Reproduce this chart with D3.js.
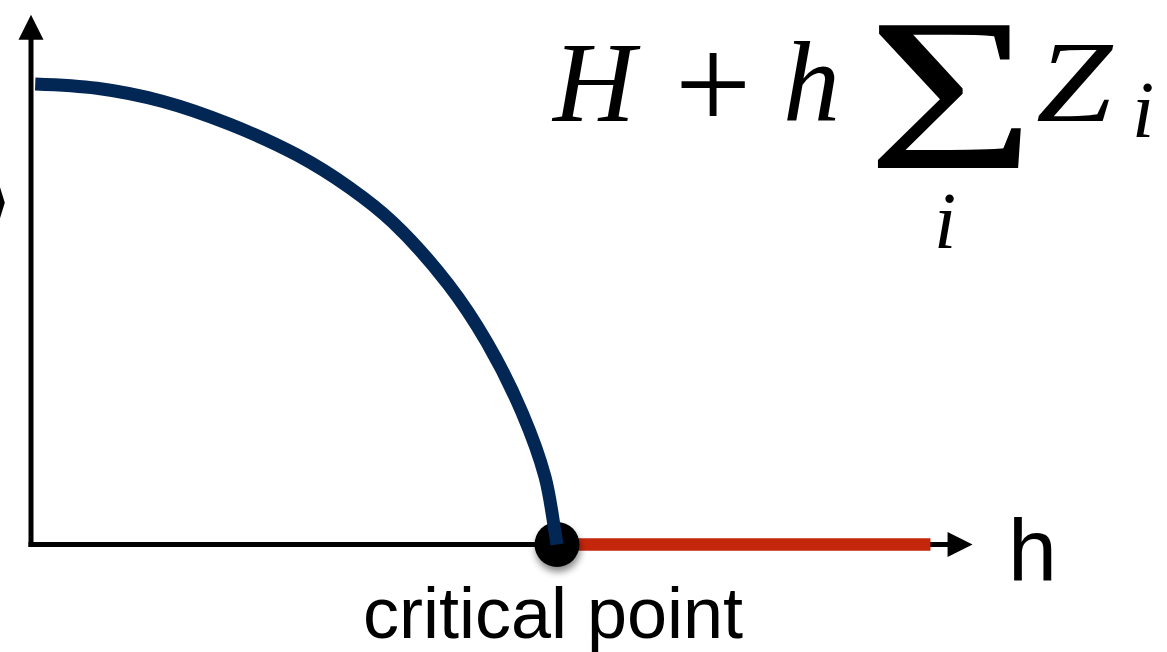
<!DOCTYPE html>
<html>
<head>
<meta charset="utf-8">
<script src="https://cdn.jsdelivr.net/npm/d3@7"></script>
<style>
  html, body { margin: 0; padding: 0; background: #fff; }
  svg { display: block; }
</style>
</head>
<body>
<svg id="chart" width="1167" height="652"></svg>
<script>
// Order parameter <Z> against transverse field h (ordered branch up to h_c = 1)
const orderedH = [0.008, 0.1255, 0.251, 0.378, 0.506, 0.6065, 0.688, 0.7928, 0.8669, 0.9335, 0.9772, 0.9962, 1.0];
const orderedZ = [0.999, 0.9896, 0.961, 0.9115, 0.8447, 0.7733, 0.6987, 0.5651, 0.4382, 0.2863, 0.1466, 0.0271, 0.0];
// Disordered branch: <Z> = 0 beyond the critical point
const disorderedH = [1.0, 1.71];
const disorderedZ = [0, 0];
const criticalH = [1.0];
const criticalZ = [0];
// Axis extents (end of arrows)
const axisHMax = [1.79];
const axisZMax = [1.149];

const labels = {
  xAxis: "h",
  yAxis: "\u27E8Z\u27E9",
  critical: "critical point"
};

const svg = d3.select("#chart");

const x = d3.scaleLinear().domain([0, 1]).range([31, 557]);
const y = d3.scaleLinear().domain([0, 1]).range([544.5, 83.5]);

const defs = svg.append("defs");
const shadow = defs.append("filter").attr("id", "dotShadow")
  .attr("x", "-50%").attr("y", "-50%").attr("width", "200%").attr("height", "200%");
shadow.append("feDropShadow")
  .attr("dx", 1).attr("dy", 5).attr("stdDeviation", 3.5)
  .attr("flood-color", "#000").attr("flood-opacity", 0.45);

// Axes with arrowheads
const axisColor = "#000";
const xEnd = x(axisHMax[0]);
const yEnd = y(axisZMax[0]);
const arrowLen = 25, arrowHalf = 12.5;

svg.append("line")
  .attr("x1", x(0) - 2.5).attr("x2", xEnd - arrowLen + 2)
  .attr("y1", y(0)).attr("y2", y(0))
  .attr("stroke", axisColor).attr("stroke-width", 5);
svg.append("path")
  .attr("d", `M${xEnd},${y(0)} L${xEnd - arrowLen},${y(0) - arrowHalf} L${xEnd - arrowLen},${y(0) + arrowHalf} Z`)
  .attr("fill", axisColor);

svg.append("line")
  .attr("x1", x(0)).attr("x2", x(0))
  .attr("y1", y(0) + 2.5).attr("y2", yEnd + arrowLen - 2)
  .attr("stroke", axisColor).attr("stroke-width", 5);
svg.append("path")
  .attr("d", `M${x(0)},${yEnd} L${x(0) - arrowHalf},${yEnd + arrowLen} L${x(0) + arrowHalf},${yEnd + arrowLen} Z`)
  .attr("fill", axisColor);

// Axis labels
svg.append("text")
  .attr("x", 1008).attr("y", 580)
  .attr("font-family", "Liberation Sans, Arial, sans-serif")
  .attr("font-size", 88)
  .attr("fill", "#000")
  .text(labels.xAxis);

svg.append("text")
  .attr("x", 12).attr("y", 228)
  .attr("text-anchor", "end")
  .attr("font-family", "DejaVu Sans, sans-serif")
  .attr("font-size", 80)
  .attr("fill", "#000")
  .text(labels.yAxis);

// Disordered branch
svg.append("path")
  .datum(disorderedH.map((h, i) => [h, disorderedZ[i]]))
  .attr("d", d3.line().x(d => x(d[0])).y(d => y(d[1])))
  .attr("fill", "none")
  .attr("stroke", "#c4260c")
  .attr("stroke-width", 12.5);

// Critical point
svg.selectAll("circle.crit")
  .data(criticalH.map((h, i) => [h, criticalZ[i]]))
  .join("circle")
  .attr("class", "crit")
  .attr("cx", d => x(d[0])).attr("cy", d => y(d[1]))
  .attr("r", 22.5)
  .attr("fill", "#000")
  .attr("filter", "url(#dotShadow)");

// Ordered branch
svg.append("path")
  .datum(orderedH.map((h, i) => [h, orderedZ[i]]))
  .attr("d", d3.line().x(d => x(d[0])).y(d => y(d[1])).curve(d3.curveCatmullRom.alpha(0.5)))
  .attr("fill", "none")
  .attr("stroke", "#032754")
  .attr("stroke-width", 13);

svg.append("text")
  .attr("x", x(criticalH[0]) - 4).attr("y", 638)
  .attr("text-anchor", "middle")
  .attr("font-family", "Liberation Sans, Arial, sans-serif")
  .attr("font-size", 72)
  .attr("fill", "#000")
  .text(labels.critical);

// Hamiltonian  H + h Σ_i Z_i
const math = svg.append("g").attr("font-family", "Liberation Serif, Times New Roman, serif").attr("fill", "#000");
const base = 121;
math.append("text").attr("x", 553).attr("y", base).attr("font-style", "italic").attr("font-size", 114).text("H");
math.append("text").attr("x", 713).attr("y", base + 9).attr("text-anchor", "middle").attr("font-size", 136).text("+");
math.append("text").attr("x", 783).attr("y", base).attr("font-style", "italic").attr("font-size", 114).text("h");
math.append("text").attr("transform", "translate(951,168) scale(1.33,1)")
  .attr("text-anchor", "middle").attr("font-size", 218).text("\u03A3");
math.append("text").attr("x", 945).attr("y", 248).attr("text-anchor", "middle").attr("font-style", "italic").attr("font-size", 80).text("i");
math.append("text").attr("transform", `translate(1036,${base}) scale(1.18,1)`).attr("font-style", "italic").attr("font-size", 116).text("Z");
math.append("text").attr("x", 1132).attr("y", 137).attr("font-style", "italic").attr("font-size", 80).text("i");
</script>
</body>
</html>
